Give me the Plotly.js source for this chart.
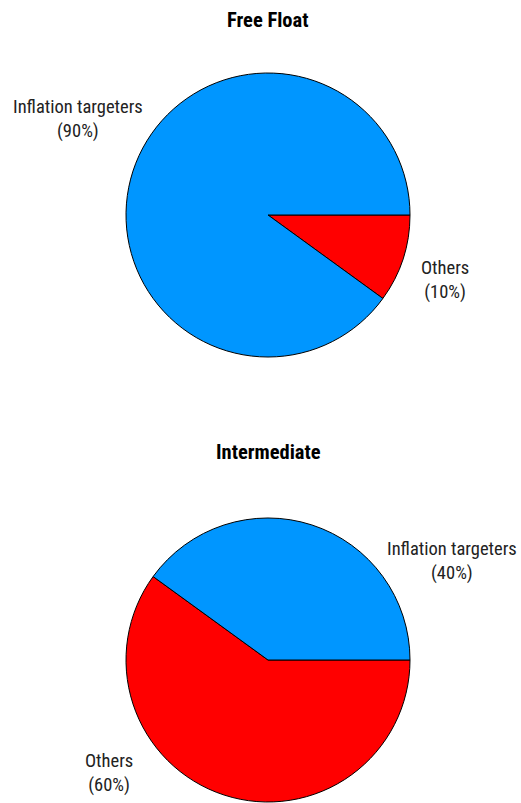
<!DOCTYPE html>
<html>
<head>
<meta charset="utf-8">
<script src="https://cdn.plot.ly/plotly-3.0.1.min.js"></script>
<style>html,body{margin:0;padding:0;background:#fff;}#chart{width:521px;height:803px;}</style>
</head>
<body>
<div id="chart"></div>
<script>
// Data
const panelTitles = ["Free Float", "Intermediate"];
const freeFloatLabels = ["Others", "Inflation targeters"];
const freeFloatValues = [10, 90];
const intermediateLabels = ["Others", "Inflation targeters"];
const intermediateValues = [60, 40];

const colorMap = {"Inflation targeters": "#0096FF", "Others": "#FF0000"};
const FONT = "Roboto Condensed, Liberation Sans Narrow, sans-serif";

const W = 521, H = 803;
function px2x(p){ return p / W; }
function px2y(p){ return 1 - p / H; }

const R = 142, CX = 268;
const centers = [215, 660];

function pieTrace(labels, values, cy){
  return {
    type: "pie",
    labels: labels,
    values: values,
    sort: false,
    direction: "clockwise",
    rotation: 90,
    textinfo: "none",
    hoverinfo: "label+percent",
    marker: {colors: labels.map(l => colorMap[l]), line: {color: "#000", width: 1}},
    domain: {x: [px2x(CX - R), px2x(CX + R)], y: [px2y(cy + R), px2y(cy - R)]},
    showlegend: false
  };
}

const data = [
  pieTrace(freeFloatLabels, freeFloatValues, centers[0]),
  pieTrace(intermediateLabels, intermediateValues, centers[1])
];

// Label placement (pixel centers)
const labelPos = [
  {"Others": [445, 280], "Inflation targeters": [78, 119]},
  {"Inflation targeters": [452, 561], "Others": [109, 773]}
];
const titleY = [20, 452];

const annotations = [];
[[freeFloatLabels, freeFloatValues], [intermediateLabels, intermediateValues]].forEach((pair, i) => {
  const [labs, vals] = pair;
  const tot = vals.reduce((a, b) => a + b, 0);
  labs.forEach((l, j) => {
    const p = labelPos[i][l];
    annotations.push({
      xref: "paper", yref: "paper", x: px2x(p[0]), y: px2y(p[1]),
      xanchor: "center", yanchor: "middle", align: "center", showarrow: false,
      text: l + "<br>(" + Math.round(vals[j] / tot * 100) + "%)",
      font: {family: FONT, size: 18.5, color: "#222"}
    });
  });
  annotations.push({
    xref: "paper", yref: "paper", x: px2x(CX), y: px2y(titleY[i]),
    xanchor: "center", yanchor: "middle", showarrow: false,
    text: "<b>" + panelTitles[i] + "</b>",
    font: {family: FONT, size: 20.5, color: "#000"}
  });
});

const layout = {
  width: W, height: H,
  margin: {l: 0, r: 0, t: 0, b: 0},
  paper_bgcolor: "#fff",
  plot_bgcolor: "#fff",
  annotations: annotations,
  font: {family: FONT}
};

Plotly.newPlot("chart", data, layout, {displayModeBar: false, staticPlot: true});
</script>
</body>
</html>
